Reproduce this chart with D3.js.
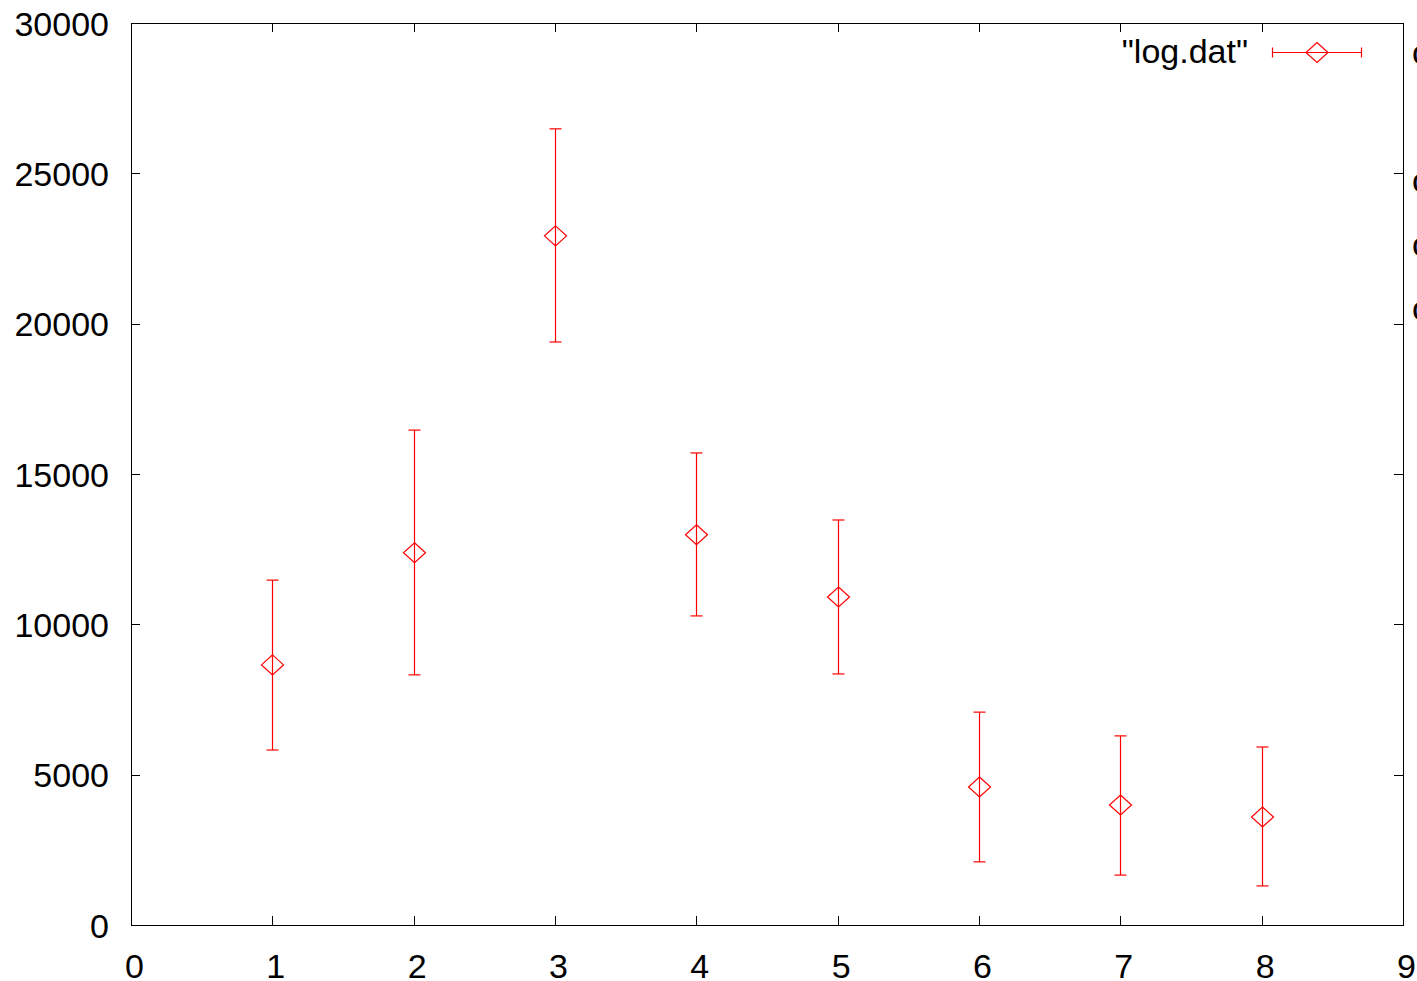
<!DOCTYPE html>
<html>
<head>
<meta charset="utf-8">
<script src="https://cdn.jsdelivr.net/npm/d3@7"></script>
<style>
	body { margin: 0; background: #fff; }
	svg { display: block; }
	text { font-family: "Liberation Sans", Arial, sans-serif; }
</style>
</head>
<body>
<div id="chart"></div>
<script>

// data
var xs    = [1, 2, 3, 4, 5, 6, 7, 8];
var means = [8650, 12380, 22920, 12980, 10910, 4590, 3990, 3590];
var lows  = [5820, 8320, 19390, 10280, 8350, 2100, 1660, 1300];
var highs = [11470, 16460, 26480, 15700, 13470, 7080, 6290, 5920];

var xTicks = [0, 1, 2, 3, 4, 5, 6, 7, 8, 9];
var yTicks = [0, 5000, 10000, 15000, 20000, 25000, 30000];

var seriesName = '"log.dat"';

var W = 1417, H = 981;
var plotL = 131, plotR = 1403, plotT = 23, plotB = 925;
var red = "#ff0000";
var fontSize = 34;

var svg = d3.select("#chart")
	.append("svg")
	.attr("width", W)
	.attr("height", H);

var x = d3.scaleLinear().domain([0, 9]).range([plotL, plotR]);
var y = d3.scaleLinear().domain([0, 30000]).range([plotB, plotT]);

// frame
svg.append("rect")
	.attr("x", plotL + 0.5)
	.attr("y", plotT + 0.5)
	.attr("width", plotR - plotL)
	.attr("height", plotB - plotT)
	.attr("fill", "none")
	.attr("stroke", "#000")
	.attr("stroke-width", 1);

var tickLen = 9;

// inward ticks on all four sides, gnuplot style
var gx = svg.append("g");
xTicks.slice(1, -1).forEach(function(t) {
	var px = Math.round(x(t)) + 0.5;
	gx.append("line").attr("x1", px).attr("x2", px)
		.attr("y1", plotB).attr("y2", plotB - tickLen).attr("stroke", "#000");
	gx.append("line").attr("x1", px).attr("x2", px)
		.attr("y1", plotT).attr("y2", plotT + tickLen).attr("stroke", "#000");
});
var gy = svg.append("g");
yTicks.slice(1, -1).forEach(function(t) {
	var py = Math.round(y(t)) + 0.5;
	gy.append("line").attr("x1", plotL).attr("x2", plotL + tickLen)
		.attr("y1", py).attr("y2", py).attr("stroke", "#000");
	gy.append("line").attr("x1", plotR).attr("x2", plotR - tickLen)
		.attr("y1", py).attr("y2", py).attr("stroke", "#000");
});

// tick labels
svg.append("g").selectAll("text")
	.data(xTicks)
	.enter().append("text")
	.attr("x", function(d) { return x(d) + 3.5; })
	.attr("y", 978)
	.attr("text-anchor", "middle")
	.attr("font-size", fontSize)
	.text(function(d) { return d; });

svg.append("g").selectAll("text")
	.data(yTicks)
	.enter().append("text")
	.attr("x", 109)
	.attr("y", function(d) { return y(d) + 12.5; })
	.attr("text-anchor", "end")
	.attr("font-size", fontSize)
	.text(function(d) { return d; });

// error bars
var data = xs.map(function(v, i) {
	return { x: v, y: means[i], lo: lows[i], hi: highs[i] };
});

var cap = 6, dw = 11, dh = 10;

function diamond(cx, cy) {
	return "M" + cx + "," + (cy - dh) + "L" + (cx + dw) + "," + cy +
		"L" + cx + "," + (cy + dh) + "L" + (cx - dw) + "," + cy + "Z";
}

var pts = svg.append("g")
	.attr("stroke", red)
	.attr("fill", "none")
	.attr("stroke-width", 1.2);

data.forEach(function(d) {
	var px = Math.round(x(d.x)) + 0.5;
	pts.append("line").attr("x1", px).attr("x2", px)
		.attr("y1", y(d.hi)).attr("y2", y(d.lo));
	pts.append("line").attr("x1", px - cap).attr("x2", px + cap)
		.attr("y1", y(d.hi)).attr("y2", y(d.hi));
	pts.append("line").attr("x1", px - cap).attr("x2", px + cap)
		.attr("y1", y(d.lo)).attr("y2", y(d.lo));
	pts.append("path").attr("d", diamond(px, y(d.y)));
});

// legend
var ly = 52.5;
svg.append("text")
	.attr("x", 1248)
	.attr("y", 63)
	.attr("text-anchor", "end")
	.attr("font-size", fontSize)
	.text(seriesName);

var lg = svg.append("g")
	.attr("stroke", red)
	.attr("fill", "none")
	.attr("stroke-width", 1.2);
lg.append("line").attr("x1", 1272).attr("x2", 1362).attr("y1", ly).attr("y2", ly);
lg.append("line").attr("x1", 1272.5).attr("x2", 1272.5).attr("y1", ly - 5).attr("y2", ly + 5);
lg.append("line").attr("x1", 1361.5).attr("x2", 1361.5).attr("y1", ly - 5).attr("y2", ly + 5);
lg.append("path").attr("d", diamond(1317, ly));

// text cut off at the right edge of the window
var edgeY = [55, 183, 247, 311];
svg.append("g").selectAll("text")
	.data(edgeY)
	.enter().append("text")
	.attr("x", 1412)
	.attr("y", function(d) { return d + 9; })
	.attr("font-size", fontSize)
	.text("o");

</script>
</body>
</html>
